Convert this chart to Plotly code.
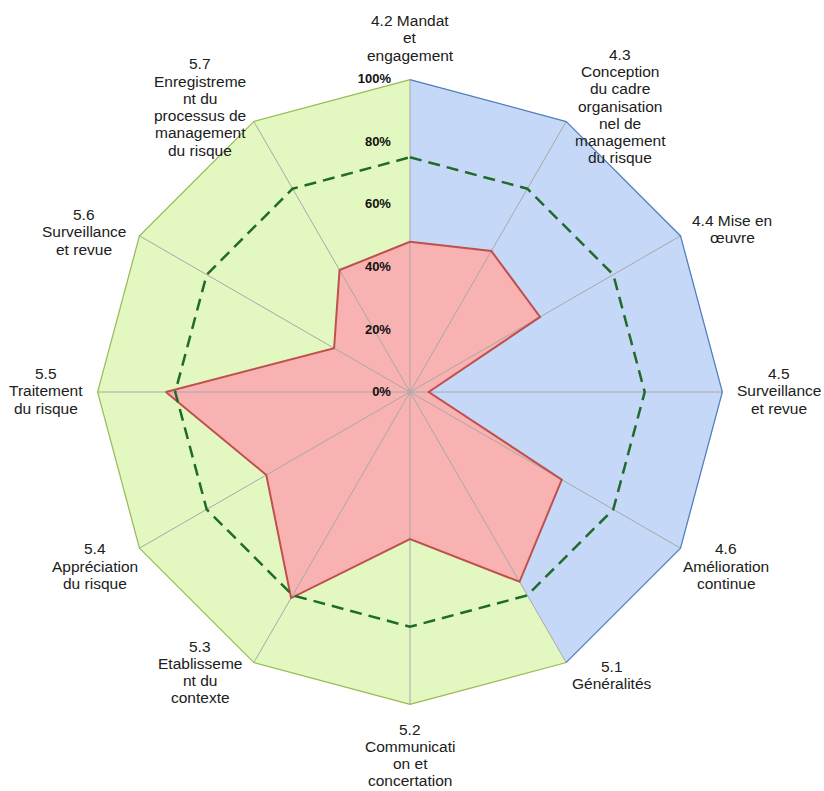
import plotly.graph_objects as go

# Axes of the radar (ISO 31000 clauses), clockwise from the top
categories = [
    "4.2 Mandat<br>et<br>engagement",
    "4.3<br>Conception<br>du cadre<br>organisation<br>nel de<br>management<br>du risque",
    "4.4 Mise en<br>œuvre",
    "4.5<br>Surveillance<br>et revue",
    "4.6<br>Amélioration<br>continue",
    "5.1<br>Généralités",
    "5.2<br>Communicati<br>on et<br>concertation",
    "5.3<br>Etablisseme<br>nt du<br>contexte",
    "5.4<br>Appréciation<br>du risque",
    "5.5<br>Traitement<br>du risque",
    "5.6<br>Surveillance<br>et revue",
    "5.7<br>Enregistreme<br>nt du<br>processus de<br>management<br>du risque",
]

# Background sectors: clause 4 (cadre) and clause 5 (processus)
cadre = [100, 100, 100, 100, 100, 100, 0, 0, 0, 0, 0, 0]
processus = [100, 0, 0, 0, 0, 100, 100, 100, 100, 100, 100, 100]

# Assessed maturity (%)
maturite = [48, 52, 48, 6, 56, 70, 47, 76, 53, 78, 28, 45]

# Target level (%)
objectif = [75] * 12

radial_ticks = [0, 20, 40, 60, 80, 100]

# Page size and centre of each category label (pixels from top-left)
W, H = 824, 791
label_centres = [
    (410, 38), (620, 106), (732, 229), (779, 391), (726, 566), (612, 675),
    (410, 755), (200, 672), (95, 566), (46, 391), (84, 232), (200, 107),
]
LINE_PITCH = 17.3
FONT = "Liberation Sans, Arial, sans-serif"


def closed(values):
    return list(values) + [values[0]]


theta_c = closed(categories)
fig = go.Figure()

# sector fills
fig.add_trace(go.Scatterpolar(
    r=closed(cadre), theta=theta_c, mode="lines", fill="toself",
    fillcolor="#c6d8f7", line=dict(width=0),
))
fig.add_trace(go.Scatterpolar(
    r=closed(processus), theta=theta_c, mode="lines", fill="toself",
    fillcolor="#e2f8c0", line=dict(width=0),
))

# maturity area
fig.add_trace(go.Scatterpolar(
    r=closed(maturite), theta=theta_c, mode="lines", fill="toself",
    fillcolor="#f8b2b2", line=dict(width=0),
))

# spokes
spoke_r, spoke_t = [], []
for c in categories:
    spoke_r += [0, 100, None]
    spoke_t += [c, c, None]
fig.add_trace(go.Scatterpolar(
    r=spoke_r, theta=spoke_t, mode="lines",
    line=dict(color="#a8a8a8", width=1), connectgaps=False,
))

# maturity outline
fig.add_trace(go.Scatterpolar(
    r=closed(maturite), theta=theta_c, mode="lines",
    line=dict(color="#c0504d", width=2),
))

# target
fig.add_trace(go.Scatterpolar(
    r=closed(objectif), theta=theta_c, mode="lines",
    line=dict(color="#1f6b2a", width=2.5, dash="12px,7px"),
))

# outer edges of the two sectors
idx_c = [i for i, v in enumerate(cadre) if v > 0]
idx_p = [i for i, v in enumerate(processus) if v > 0]
idx_p = idx_p[1:] + idx_p[:1]  # 5.1 ... 5.7, 4.2
fig.add_trace(go.Scatterpolar(
    r=[cadre[i] for i in idx_c], theta=[categories[i] for i in idx_c],
    mode="lines", line=dict(color="#4f7fbd", width=2.5),
))
fig.add_trace(go.Scatterpolar(
    r=[processus[i] for i in idx_p], theta=[categories[i] for i in idx_p],
    mode="lines", line=dict(color="#9bbb59", width=2.5),
))

# category labels, one line per annotation for a tight line spacing
annotations = []
for label, (cx, cy) in zip(categories, label_centres):
    lines = label.split("<br>")
    n = len(lines)
    for i, txt in enumerate(lines):
        y = cy + (i - (n - 1) / 2) * LINE_PITCH
        annotations.append(dict(
            text=txt, x=cx / W, y=1 - y / H, xref="paper", yref="paper",
            xanchor="center", yanchor="middle", showarrow=False,
            font=dict(family=FONT, size=15.5, color="#202020"),
        ))

fig.update_layout(
    width=W, height=H,
    margin=dict(l=0, r=0, t=0, b=0),
    paper_bgcolor="white",
    showlegend=False,
    font=dict(family=FONT, size=15, color="#222222"),
    annotations=annotations,
    polar=dict(
        domain=dict(x=[0.1177, 0.8774], y=[0.1087, 0.9001]),
        bgcolor="rgba(0,0,0,0)",
        gridshape="linear",
        angularaxis=dict(
            type="category", categoryarray=categories,
            direction="clockwise", rotation=90,
            showgrid=False, showline=False, ticks="",
            showticklabels=False,
        ),
        radialaxis=dict(
            range=[0, 100], tickvals=radial_ticks,
            ticktext=[f"<b>{v}%</b>" for v in radial_ticks],
            angle=90, tickangle=90, side="counterclockwise",
            showgrid=False, showline=False,
            ticks="outside", ticklen=14, tickcolor="rgba(0,0,0,0)",
            tickfont=dict(family=FONT, size=13, color="#111111"),
        ),
    ),
)

fig.write_html("out.html")
